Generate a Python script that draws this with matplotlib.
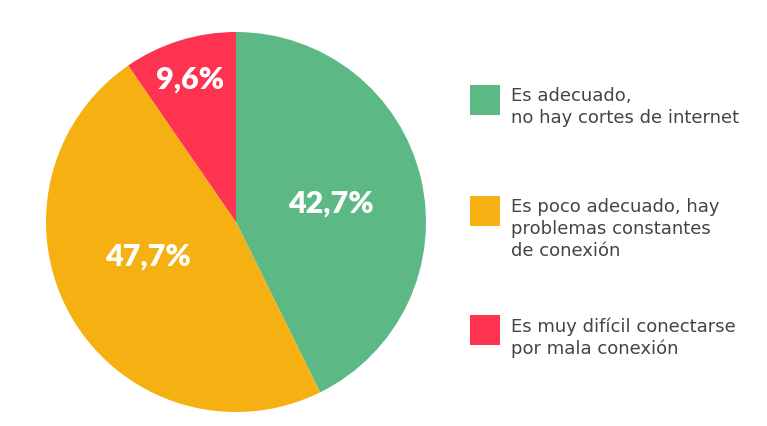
import matplotlib.pyplot as plt
import numpy as np
from matplotlib.patches import Rectangle

plt.rcParams['font.family'] = ['DejaVu Sans']

labels = ["Es adecuado,\nno hay cortes de internet",
          "Es poco adecuado, hay\nproblemas constantes\nde conexión",
          "Es muy difícil conectarse\npor mala conexión"]
values = [42.7, 47.7, 9.6]
colors = ["#5cb985", "#f5b111", "#fe334f"]

W, H = 767, 426
fig = plt.figure(figsize=(W / 100, H / 100), dpi=100)

# pie: centre (236, 222) px, radius 190 px
ax = fig.add_axes([(236 - 190) / W, (H - 222 - 190) / H, 380 / W, 380 / H])
wedges, texts, pcts = ax.pie(values, colors=colors, startangle=90, counterclock=False,
                             autopct=lambda p: ("%.1f%%" % p).replace(".", ","),
                             pctdistance=0.5, radius=1,
                             textprops=dict(color="white", fontsize=22, fontweight="heavy",
                                            family=["Lato", "DejaVu Sans"]))
# label placement tweaks: (distance from centre, angle offset in degrees)
label_pos = [(0.51, -2), (0.50, -9), (0.785, 0.5)]
for w, t, (d, off) in zip(wedges, pcts, label_pos):
    ang = np.deg2rad((w.theta1 + w.theta2) / 2 + off)
    t.set_position((d * np.cos(ang), d * np.sin(ang)))
ax.set_xlim(-1, 1)
ax.set_ylim(-1, 1)
ax.set_aspect("equal")

# legend
sq_top = [85, 196, 315]
for lab, col, y in zip(labels, colors, sq_top):
    fig.add_artist(Rectangle((470 / W, (H - y - 30) / H), 30 / W, 30 / H,
                             transform=fig.transFigure, color=col, lw=0))
    fig.text(511 / W, (H - y - 2) / H, lab, va="top", ha="left", fontsize=13,
             color="#444444", linespacing=1.28)

fig.savefig("out.png", dpi=100, facecolor="white")
